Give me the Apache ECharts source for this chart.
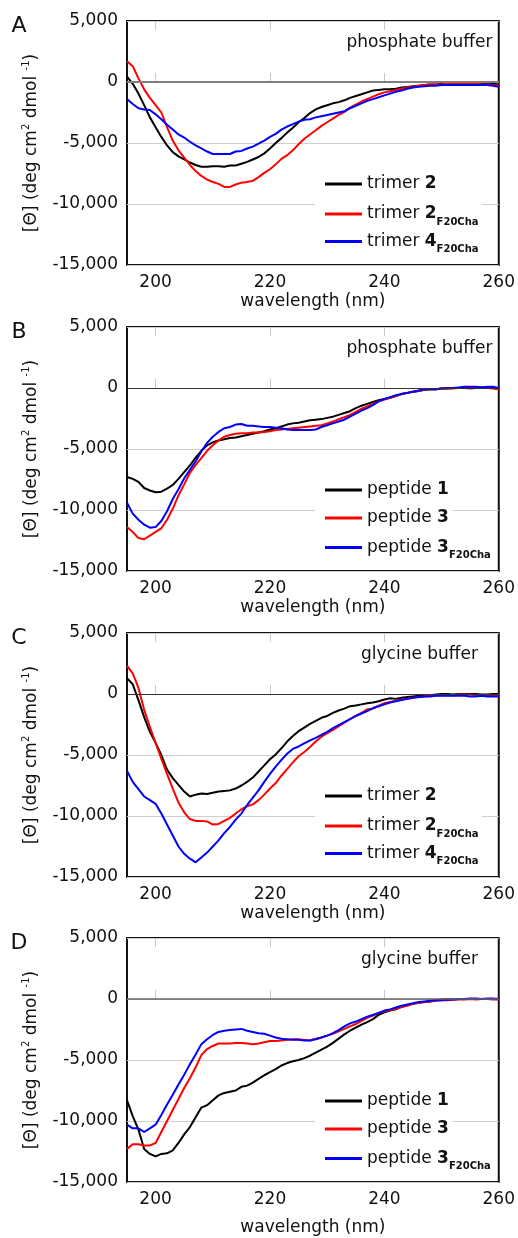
<!DOCTYPE html>
<html><head><meta charset="utf-8">
<script src="https://cdn.jsdelivr.net/npm/echarts@6/dist/echarts.min.js"></script>
<style>html,body{margin:0;padding:0;background:#fff}#chart{width:518px;height:1238px}</style>
</head><body><div id="chart"></div>
<script>
// ---------------- DATA ----------------
const wavelengths = [
  195, 196, 197, 198, 199,
  200, 201, 202, 203, 204, 205, 206, 207, 208, 209,
  210, 211, 212, 213, 214, 215, 216, 217, 218, 219,
  220, 221, 222, 223, 224, 225, 226, 227, 228, 229,
  230, 231, 232, 233, 234, 235, 236, 237, 238, 239,
  240, 241, 242, 243, 244, 245, 246, 247, 248, 249,
  250, 251, 252, 253, 254, 255, 256, 257, 258, 259, 260
];
const xTickValues = [200, 220, 240, 260];
const panelLetters = ['A', 'B', 'C', 'D'];
const bufferLabels = ['phosphate buffer', 'phosphate buffer', 'glycine buffer', 'glycine buffer'];
const trimerNames = ['trimer 2', 'trimer 2F20Cha', 'trimer 4F20Cha'];
const peptideNames = ['peptide 1', 'peptide 3', 'peptide 3F20Cha'];

// Panel A (phosphate buffer)
const trimer2_A = [
  450, -150, -950, -1900, -2900,
  -3700, -4500, -5200, -5750, -6100, -6350, -6600, -6800, -6950, -6950,
  -6900, -6900, -6950, -6850, -6850, -6700, -6550, -6350, -6150, -5850,
  -5450, -5000, -4600, -4150, -3750, -3300, -2950, -2550, -2250, -2050,
  -1900, -1750, -1650, -1500, -1300, -1150, -1000, -850, -700, -650,
  -600, -600, -550, -450, -400, -350, -300, -250, -200, -200,
  -150, -150, -150, -150, -150, -150, -100, -150, -150, -150, -200
];
const trimer2F20Cha_A = [
  1700, 1300, 300, -600, -1300,
  -1900, -2500, -3700, -4800, -5600, -6200, -6800, -7300, -7700, -8000,
  -8200, -8350, -8600, -8600, -8400, -8250, -8200, -8100, -7800, -7450,
  -7150, -6750, -6300, -6000, -5600, -5100, -4650, -4300, -3950, -3600,
  -3300, -3000, -2700, -2450, -2100, -1850, -1600, -1400, -1200, -1000,
  -850, -750, -650, -550, -450, -400, -300, -250, -200, -200,
  -200, -150, -150, -150, -150, -150, -150, -200, -200, -250, -300
];
const trimer4F20Cha_A = [
  -1400, -1800, -2150, -2250, -2300,
  -2650, -3050, -3500, -3900, -4300, -4550, -4900, -5200, -5450, -5700,
  -5900, -5900, -5900, -5900, -5700, -5650, -5450, -5300, -5050, -4800,
  -4500, -4250, -3900, -3650, -3450, -3250, -3100, -3050, -2900, -2800,
  -2700, -2600, -2500, -2400, -2150, -1950, -1750, -1550, -1400, -1250,
  -1100, -950, -800, -700, -550, -450, -400, -350, -300, -300,
  -250, -250, -250, -250, -250, -250, -250, -250, -250, -300, -400
];

// Panel B (phosphate buffer)
const peptide1_B = [
  -7300, -7450, -7700, -8200, -8400,
  -8550, -8500, -8250, -7950, -7450, -6900, -6350, -5700, -5150, -4700,
  -4450, -4300, -4200, -4100, -4050, -3950, -3850, -3750, -3650, -3550,
  -3400, -3300, -3150, -3000, -2900, -2850, -2750, -2650, -2600, -2550,
  -2450, -2350, -2200, -2050, -1900, -1650, -1450, -1300, -1150, -1000,
  -900, -800, -650, -500, -400, -300, -250, -150, -100, -100,
  -50, 0, 0, 0, 0, 0, 50, 50, 50, 0, -50
];
const peptide3_B = [
  -11400, -11800, -12300, -12400, -12100,
  -11800, -11500, -10800, -9900, -8800, -7900, -6950, -6300, -5750, -5150,
  -4700, -4300, -4000, -3850, -3750, -3700, -3700, -3650, -3650, -3600,
  -3550, -3450, -3400, -3350, -3300, -3250, -3200, -3150, -3100, -3050,
  -2900, -2750, -2550, -2400, -2200, -1950, -1700, -1500, -1300, -1100,
  -950, -800, -650, -500, -400, -300, -250, -150, -100, -100,
  -50, -50, -50, 0, 0, -50, 0, 0, 0, -50, -100
];
const peptide3F20Cha_B = [
  -9400, -10300, -10800, -11200, -11450,
  -11400, -10900, -10100, -9100, -8300, -7400, -6700, -6000, -5200, -4500,
  -4000, -3600, -3300, -3200, -3000, -2950, -3100, -3100, -3150, -3200,
  -3200, -3250, -3300, -3400, -3450, -3450, -3450, -3450, -3400, -3200,
  -3050, -2900, -2750, -2600, -2350, -2100, -1850, -1650, -1400, -1100,
  -900, -750, -600, -500, -400, -300, -200, -100, -100, -100,
  -50, -50, 0, 50, 100, 100, 100, 50, 100, 100, 0
];

// Panel C (glycine buffer)
const trimer2_C = [
  1300, 800, -500, -1900, -3100,
  -4000, -5000, -6200, -6900, -7450, -8000, -8400, -8250, -8150, -8200,
  -8100, -8000, -7950, -7900, -7750, -7500, -7200, -6850, -6350, -5850,
  -5350, -4950, -4450, -3900, -3450, -3050, -2750, -2450, -2200, -1950,
  -1800, -1550, -1350, -1200, -1000, -950, -850, -750, -700, -600,
  -450, -350, -400, -300, -250, -200, -150, -100, -100, -50,
  0, 0, -50, 0, 0, 0, 0, -50, -50, 0, 0
];
const trimer2F20Cha_C = [
  2300, 1700, 500, -1300, -2700,
  -4000, -5300, -6550, -7750, -8900, -9700, -10250, -10400, -10400, -10450,
  -10700, -10650, -10400, -10150, -9800, -9450, -9200, -9050, -8700, -8250,
  -7750, -7300, -6700, -6150, -5600, -5100, -4750, -4350, -3900, -3500,
  -3200, -2950, -2650, -2350, -2050, -1800, -1550, -1250, -1200, -950,
  -750, -650, -550, -450, -400, -300, -250, -200, -150, -100,
  -100, -100, -100, -50, -50, -50, -100, -100, -100, -100, -100
];
const trimer4F20Cha_C = [
  -6300, -7200, -7800, -8400, -8700,
  -9000, -9800, -10700, -11600, -12500, -13100, -13500, -13800, -13400, -13000,
  -12500, -12000, -11400, -10900, -10300, -9800, -9100, -8500, -7900, -7200,
  -6550, -5950, -5400, -4900, -4500, -4300, -4050, -3800, -3600, -3350,
  -3100, -2800, -2550, -2300, -2050, -1800, -1600, -1400, -1150, -1000,
  -850, -700, -600, -500, -400, -300, -250, -200, -200, -150,
  -150, -150, -150, -150, -150, -200, -200, -150, -200, -200, -200
];

// Panel D (glycine buffer)
const peptide1_D = [
  -8300, -9600, -10700, -12300, -12700,
  -12900, -12700, -12650, -12400, -11800, -11100, -10500, -9700, -8900, -8700,
  -8300, -7900, -7700, -7600, -7500, -7200, -7100, -6850, -6550, -6250,
  -6000, -5750, -5450, -5250, -5100, -5000, -4850, -4650, -4400, -4150,
  -3900, -3600, -3250, -2900, -2600, -2350, -2100, -1900, -1650, -1300,
  -1100, -950, -850, -650, -500, -400, -300, -250, -200, -100,
  -50, -50, -50, 0, 0, 0, 0, 0, 0, 0, 0
];
const peptide3_D = [
  -12300, -11900, -11900, -12000, -12000,
  -11800, -10900, -10000, -9100, -8200, -7300, -6500, -5600, -4600, -4100,
  -3850, -3650, -3650, -3650, -3600, -3600, -3650, -3700, -3650, -3550,
  -3450, -3450, -3400, -3350, -3300, -3300, -3350, -3400, -3250, -3150,
  -3000, -2850, -2650, -2450, -2250, -2050, -1800, -1550, -1350, -1150,
  -1000, -900, -800, -650, -550, -400, -300, -250, -200, -150,
  -100, -100, -50, -50, -50, 0, -50, 0, 0, -50, -50
];
const peptide3F20Cha_D = [
  -10300, -10600, -10600, -10900, -10600,
  -10300, -9500, -8650, -7850, -7000, -6200, -5350, -4550, -3700, -3300,
  -2950, -2700, -2600, -2550, -2500, -2450, -2600, -2700, -2800, -2850,
  -3000, -3150, -3250, -3300, -3350, -3350, -3400, -3400, -3300, -3150,
  -3000, -2800, -2550, -2250, -2000, -1850, -1650, -1450, -1300, -1150,
  -950, -850, -700, -550, -450, -350, -250, -200, -150, -100,
  -100, -50, -50, 0, 0, 50, 50, 0, 50, 50, 0
];

// ---------------- CHART ----------------
const panels = [
  { names: trimerNames,  values: [trimer2_A, trimer2F20Cha_A, trimer4F20Cha_A] },
  { names: peptideNames, values: [peptide1_B, peptide3_B, peptide3F20Cha_B] },
  { names: trimerNames,  values: [trimer2_C, trimer2F20Cha_C, trimer4F20Cha_C] },
  { names: peptideNames, values: [peptide1_D, peptide3_D, peptide3F20Cha_D] }
];
const lineColors = ['#000000', '#ff0000', '#0000ff'];
const zeroLineStyles = [
  { color: '#808080', width: 2 },
  { color: '#333333', width: 1 },
  { color: '#333333', width: 1 },
  { color: '#666666', width: 1.5 }
];
const FONT = 'DejaVu Sans';
const TXT = '#111111';
const GRID_TOPS = [21, 327, 633, 938];
const GRID_LEFT = 127, GRID_W = 372, GRID_H = 244;
const xNameGaps = [28, 28, 28, 37];
const legendRowOffsets = [163, 191, 218.5];
const LEG_LH = 22, LEG_PAD = 2;

function legendText(name) {
  const m = name.match(/^(\w+) (\d)(F20Cha)?$/);
  return '{n|' + m[1] + ' }{b|' + m[2] + '}' + (m[3] ? '{s|' + m[3] + '}' : '');
}
function fmtThousands(v) {
  const s = Math.abs(v).toString().replace(/\B(?=(\d{3})+(?!\d))/g, ',');
  return (v < 0 ? '-' : '') + s;
}

const grids = [], xAxes = [], xTopAxes = [], yAxes = [], legends = [], series = [], graphics = [];
GRID_TOPS.forEach((top, i) => {
  grids.push({ left: GRID_LEFT, top: top, width: GRID_W, height: GRID_H, show: true,
    borderColor: '#111', borderWidth: 2, backgroundColor: 'transparent' });
  xAxes.push({
    type: 'value', gridIndex: i, min: 195, max: 260, position: 'bottom',
    axisLine: { show: false }, splitLine: { show: false },
    axisTick: { show: true, inside: true, length: 9, customValues: xTickValues.slice(0, 3),
      lineStyle: { color: '#c8c8c8', width: 1 } },
    axisLabel: { customValues: xTickValues, margin: 9, fontSize: 17, color: TXT, fontFamily: FONT },
    name: 'wavelength (nm)', nameLocation: 'middle', nameGap: xNameGaps[i],
    nameTextStyle: { fontSize: 17, color: TXT, fontFamily: FONT }
  });
  xTopAxes.push({
    type: 'value', gridIndex: i, min: 195, max: 260, position: 'top',
    axisLine: { show: false }, splitLine: { show: false }, axisLabel: { show: false },
    axisTick: { show: true, inside: true, length: 9, customValues: xTickValues.slice(0, 3),
      lineStyle: { color: '#c8c8c8', width: 1 } }
  });
  yAxes.push({
    type: 'value', gridIndex: i, min: -15000, max: 5000, interval: 5000,
    axisLine: { show: false }, axisTick: { show: false },
    splitLine: { show: true, lineStyle: { color: '#cfcfcf', width: 1 } },
    axisLabel: { formatter: fmtThousands, margin: 9, fontSize: 17, color: TXT, fontFamily: FONT },
    name: '[Θ] (deg cm{sup|2} dmol {sup|-1})', nameLocation: 'middle', nameRotate: 90, nameGap: 75,
    nameTextStyle: { fontSize: 17, color: TXT, fontFamily: FONT, lineHeight: 20,
      rich: { sup: { fontSize: 10, lineHeight: 10, verticalAlign: 'top', fontFamily: FONT, color: TXT } } }
  });
  const p = panels[i];
  p.names.forEach((nm, k) => {
    legends.push({
      orient: 'vertical', left: 315, top: top + legendRowOffsets[k] - LEG_PAD - LEG_LH / 2,
      icon: 'rect', itemWidth: 37, itemHeight: 3,
      backgroundColor: '#ffffff', padding: [LEG_PAD, 3, LEG_PAD, 10],
      data: [nm], selectedMode: false,
      formatter: legendText,
      textStyle: { color: TXT, fontFamily: FONT, fontSize: 17, lineHeight: LEG_LH,
        rich: {
          n: { fontSize: 17, lineHeight: LEG_LH, fontFamily: FONT, color: TXT },
          b: { fontSize: 17, lineHeight: LEG_LH, fontWeight: 'bold', fontFamily: FONT, color: TXT },
          s: { fontSize: 10, lineHeight: LEG_LH, padding: [16, 0, 0, 0], fontWeight: 'bold', fontFamily: FONT, color: TXT }
        } }
    });
  });
  p.values.forEach((vals, k) => {
    const s = {
      type: 'line', name: p.names[k], xAxisIndex: i, yAxisIndex: i,
      data: wavelengths.map((w, j) => [w, vals[j]]),
      showSymbol: false, symbol: 'none', smooth: false,
      lineStyle: { color: lineColors[k], width: 2 }, itemStyle: { color: lineColors[k] },
      emphasis: { disabled: true }
    };
    if (k === 0) {
      s.markLine = { silent: true, symbol: ['none', 'none'], label: { show: false },
        lineStyle: Object.assign({ type: 'solid' }, zeroLineStyles[i]),
        emphasis: { disabled: true }, data: [{ yAxis: 0 }] };
    }
    series.push(s);
  });
  graphics.push({ type: 'text', x: 19, y: top + 5,
    style: { text: panelLetters[i], fontSize: 22, fontFamily: FONT, fill: TXT,
      align: 'center', verticalAlign: 'middle', textAlign: 'center', textVerticalAlign: 'middle' } });
  graphics.push({ type: 'text', x: 419.5, y: top + 22,
    style: { text: bufferLabels[i], fontSize: 17, fontFamily: FONT, fill: TXT,
      align: 'center', verticalAlign: 'middle', textAlign: 'center', textVerticalAlign: 'middle' } });
});

const chart = echarts.init(document.getElementById('chart'), null, { renderer: 'canvas' });
chart.setOption({
  animation: false,
  backgroundColor: '#ffffff',
  textStyle: { fontFamily: FONT },
  grid: grids,
  xAxis: xAxes.concat(xTopAxes),
  yAxis: yAxes,
  legend: legends,
  series: series,
  graphic: graphics
});
</script></body></html>
